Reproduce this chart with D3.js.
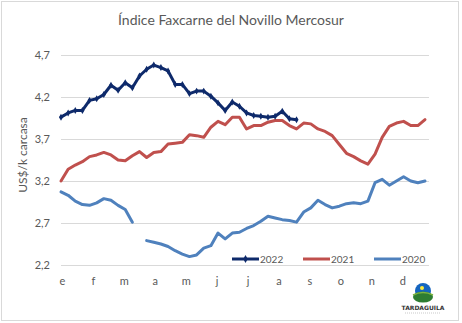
<!DOCTYPE html>
<html><head><meta charset="utf-8">
<script src="https://cdn.jsdelivr.net/npm/d3@7"></script>
<style>
html,body{margin:0;padding:0;background:#fff;}
svg{display:block;font-family:Lato,"Open Sans",sans-serif;}
</style></head>
<body>
<svg id="chart" width="462" height="323"></svg>
<script>
const months = ["e","f","m","a","m","j","j","a","s","o","n","d"];
const yTicks = [2.2, 2.7, 3.2, 3.7, 4.2, 4.7];
const seriesNames = ["2022","2021","2020"];
const seriesColors = ["#0E2A6B","#C0504D","#4F81BD"];

const v2022 = [3.96,4.01,4.04,4.04,4.16,4.18,4.23,4.34,4.28,4.37,4.31,4.45,4.53,4.58,
  4.55,4.51,4.35,4.35,4.24,4.27,4.27,4.21,4.13,4.04,4.14,4.09,4.01,
  3.98,3.97,3.96,3.97,4.03,3.94,3.93];
const v2021 = [3.20,3.34,3.39,3.43,3.49,3.51,3.54,3.51,3.45,3.44,3.50,3.55,3.48,3.54,
  3.55,3.64,3.65,3.66,3.75,3.74,3.72,3.84,3.91,3.87,3.96,3.96,3.82,
  3.86,3.86,3.90,3.92,3.92,3.86,3.82,3.89,3.88,3.82,3.79,3.74,3.635,
  3.53,3.49,3.44,3.40,3.52,3.72,3.85,3.89,3.91,3.86,3.86,3.93];
const v2020 = [3.07,3.03,2.96,2.92,2.91,2.94,2.99,2.97,2.91,2.86,2.71,null,2.49,2.47,
  2.45,2.42,2.37,2.33,2.30,2.32,2.40,2.43,2.58,2.51,2.58,2.59,2.635,
  2.67,2.72,2.78,2.76,2.74,2.73,2.71,2.83,2.88,2.97,2.92,2.88,2.90,
  2.93,2.94,2.93,2.96,3.18,3.22,3.15,3.20,3.25,3.20,3.18,3.20];
const allSeries = [v2022, v2021, v2020];

const svg = d3.select("#chart");
const W = 462, H = 323;
const m = {l:61, r:33, t:55, b:58};

svg.append("rect").attr("x",1.5).attr("y",1.5).attr("width",457).attr("height",319)
  .attr("fill","#fff").attr("stroke","#d9d9d9").attr("stroke-width",1);

const x = d3.scaleLinear().domain([0,51]).range([m.l, W - m.r - 4]);
const y = d3.scaleLinear().domain([2.2,4.7]).range([265,55]);
const x0 = m.l, x1 = 429;

// gridlines
svg.append("g").selectAll("line").data(yTicks).join("line")
  .attr("x1",x0).attr("x2",x1)
  .attr("y1",d=>Math.round(y(d))+0.5).attr("y2",d=>Math.round(y(d))+0.5)
  .attr("stroke","#d9d9d9").attr("stroke-width",1);

// y axis labels
const yAxis = d3.axisLeft(y).tickValues(yTicks).tickSize(0).tickPadding(0)
  .tickFormat(d=>d3.format(".1f")(d).replace(".",","));
const gy = svg.append("g").attr("transform",`translate(50,0)`).call(yAxis);
gy.select(".domain").remove();
gy.selectAll("text").attr("fill","#595959").style("font-size","11px").style("font-family","Lato, 'Open Sans', sans-serif");

// x axis labels
const xm = d3.scaleLinear().domain([0,52]).range([x(0), x(52)]);
const xAxis = d3.axisBottom(xm).tickValues(d3.range(12).map(i=>i*52/12))
  .tickSize(0).tickPadding(0).tickFormat((d,i)=>months[i]);
const gx = svg.append("g").attr("transform",`translate(1,277)`).call(xAxis);
gx.select(".domain").remove();
gx.selectAll("text").attr("fill","#595959").style("font-size","11px").style("font-family","Lato, 'Open Sans', sans-serif");

// lines (draw 2020, 2021, then 2022 on top)
const line = d3.line().defined(d=>d!=null).x((d,i)=>x(i)).y(d=>y(d)).curve(d3.curveLinear);
[2,1,0].forEach(k=>{
  svg.append("path").datum(allSeries[k]).attr("d",line)
    .attr("fill","none").attr("stroke",seriesColors[k]).attr("stroke-width",3)
    .attr("stroke-linejoin","round").attr("stroke-linecap","round");
});
// markers on 2022
svg.append("g").selectAll("path").data(v2022).join("path")
  .attr("d", d3.symbol().type(d3.symbolDiamond).size(14))
  .attr("transform",(d,i)=>`translate(${x(i)},${y(d)})`)
  .attr("fill",seriesColors[0]);

// legend
const legX = [232, 303, 374];
const lg = svg.append("g");
seriesNames.forEach((n,k)=>{
  lg.append("line").attr("x1",legX[k]).attr("x2",legX[k]+27).attr("y1",259).attr("y2",259)
    .attr("stroke",seriesColors[k]).attr("stroke-width",3);
  if(k===0){
    lg.append("path").attr("d",d3.symbol().type(d3.symbolDiamond).size(18)())
      .attr("transform",`translate(${legX[k]+13.5},259)`).attr("fill",seriesColors[0]);
  }
  lg.append("text").attr("x",legX[k]+28).attr("y",262.5).text(n)
    .attr("fill","#595959").style("font-size","10px");
});

// title
svg.append("text").attr("x",231).attr("y",25).attr("text-anchor","middle")
  .text("Índice Faxcarne del Novillo Mercosur").attr("fill","#595959").style("font-size","14px");

// y label
svg.append("text").attr("transform","translate(27,155) rotate(-90)").attr("text-anchor","middle")
  .text("US$/k carcasa").attr("fill","#595959").style("font-size","12px");

// logo
const logo = svg.append("g").attr("transform","translate(423,296)");
logo.append("circle").attr("cx",0).attr("cy",-5).attr("r",8).attr("fill","#1565C0");
logo.append("circle").attr("cx",-1).attr("cy",-8).attr("r",2).attr("fill","#FFEB3B");
logo.append("ellipse").attr("cx",0).attr("cy",1).attr("rx",10).attr("ry",5.5).attr("fill","#2E7D32");
logo.append("path").attr("d","M-10,-1 Q0,-6 10,-1").attr("fill","none").attr("stroke","#7CB342").attr("stroke-width",1.5);
logo.append("text").attr("x",0).attr("y",14).attr("text-anchor","middle").text("TARDAGUILA")
  .attr("fill","#333").style("font-size","6px").style("font-weight","bold").style("font-family","'DejaVu Sans'");
logo.append("line").attr("x1",-18).attr("x2",18).attr("y1",17).attr("y2",17).attr("stroke","#bbb").attr("stroke-width",0.8).attr("stroke-dasharray","1,1");
</script>
</body></html>
